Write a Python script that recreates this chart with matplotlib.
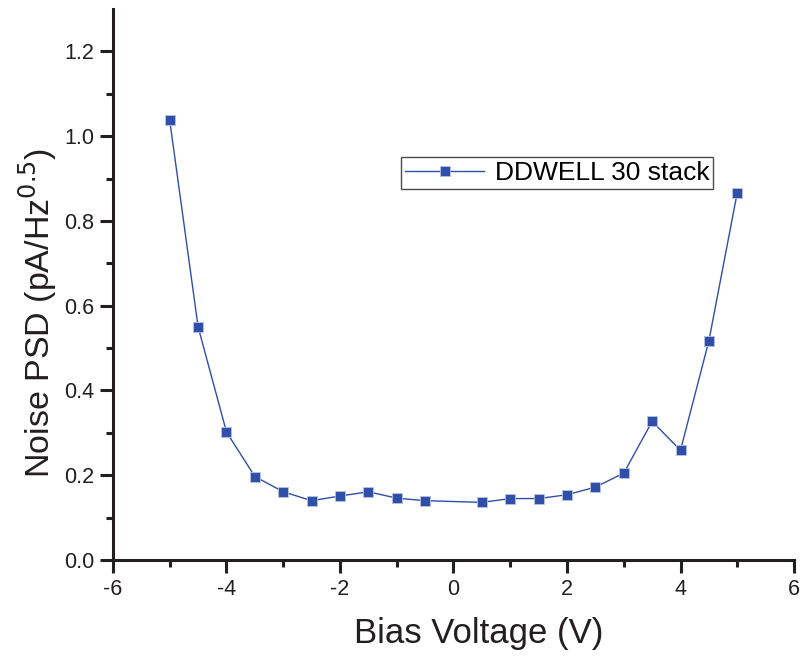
import matplotlib.pyplot as plt

plt.rcParams['font.family'] = ['Liberation Sans', 'DejaVu Sans']
plt.rcParams['axes.unicode_minus'] = False

bias = [-5, -4.5, -4, -3.5, -3, -2.5, -2, -1.5, -1, -0.5,
        0.5, 1, 1.5, 2, 2.5, 3, 3.5, 4, 4.5, 5]
psd = [1.037, 0.550, 0.302, 0.197, 0.161, 0.140, 0.151, 0.161, 0.146, 0.140,
       0.136, 0.145, 0.145, 0.154, 0.172, 0.205, 0.327, 0.259, 0.517, 0.867]

fig = plt.figure(figsize=(8.03, 6.57), dpi=100)
ax = fig.add_axes([0.1407, 0.1476, 0.8481, 0.8387])

ax.plot(bias, psd, color="#2f4fa8", linewidth=1.0, marker="s", markersize=6.5,
        markerfacecolor="#2f4fa8", markeredgecolor="#b8c4e4", markeredgewidth=0.6,
        label="DDWELL 30 stack")

ax.set_xlim(-6, 6)
ax.set_ylim(0, 1.3)
ax.set_xticks(range(-6, 7, 2))
ax.set_xticks(range(-5, 6, 2), minor=True)
ax.set_yticks([0, 0.2, 0.4, 0.6, 0.8, 1.0, 1.2])
ax.set_yticks([0.1, 0.3, 0.5, 0.7, 0.9, 1.1], minor=True)
ax.set_yticklabels(["0.0", "0.2", "0.4", "0.6", "0.8", "1.0", "1.2"])

for side in ("top", "right"):
    ax.spines[side].set_visible(False)
for side in ("left", "bottom"):
    ax.spines[side].set_linewidth(2.2)
    ax.spines[side].set_color("#231f20")

ax.tick_params(which="major", direction="out", length=9.5, width=2.2,
               labelsize=15.5, colors="#231f20", pad=4)
ax.tick_params(which="minor", direction="out", length=5, width=2.2,
               colors="#231f20")

ax.set_xlabel("Bias Voltage (V)", fontsize=25, color="#231f20")
ax.set_ylabel("Noise PSD (pA/Hz$^{0.5}$)", fontsize=24.5, color="#231f20")
# Origin-style label placement (slightly off-centre)
ax.xaxis.set_label_coords(0.5375, -0.103)
ax.yaxis.set_label_coords(-0.080, 0.448)

leg = ax.legend(loc="upper left", bbox_to_anchor=(0.423, 0.7314), fontsize=19,
                frameon=True, fancybox=False, edgecolor="#231f20",
                handlelength=3.0, borderpad=0.15, handletextpad=0.4,
                borderaxespad=0)
leg.get_frame().set_linewidth(1.0)

fig.savefig("out.png", dpi=100)
